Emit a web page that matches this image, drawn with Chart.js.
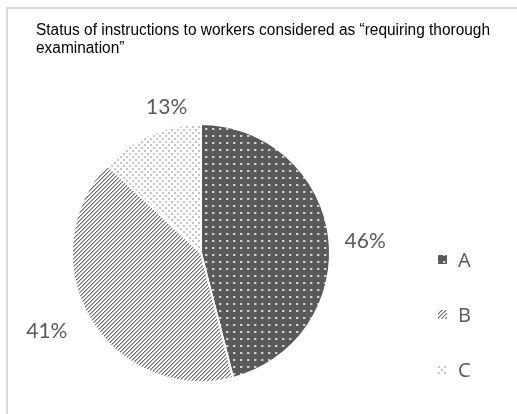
<!DOCTYPE html>
<html>
<head>
<meta charset="utf-8">
<script src="https://cdn.jsdelivr.net/npm/chart.js@4/dist/chart.umd.min.js"></script>
<style>
html,body{margin:0;padding:0;background:#fff;}
#wrap{width:517px;height:414px;position:relative;}
</style>
</head>
<body>
<div id="wrap"><canvas id="c" width="517" height="414"></canvas></div>
<script>
const titleLines = ['Status of instructions to workers considered as \u201crequiring thorough', 'examination\u201d'];
const categories = ['A', 'B', 'C'];
const values = [46, 41, 13];
const valueLabels = ['46%', '41%', '13%'];

function makePattern(kind) {
  const t = document.createElement('canvas');
  const g = t.getContext('2d');
  if (kind === 'A') {
    t.width = 7; t.height = 7;
    g.fillStyle = '#595959'; g.fillRect(0, 0, 7, 7);
    g.fillStyle = '#cfcfcf'; g.fillRect(2, 2, 2, 2);
    g.fillStyle = '#8a8a8a'; g.fillRect(4, 2, 1, 2);
  } else if (kind === 'B') {
    t.width = 4; t.height = 4;
    g.fillStyle = '#ffffff'; g.fillRect(0, 0, 4, 4);
    g.fillStyle = '#6e6e6e';
    for (let i = 0; i < 4; i++) { g.fillRect(i, 3 - i, 1, 1); }
    g.fillStyle = '#b5b5b5';
    for (let i = 0; i < 4; i++) { g.fillRect((i + 1) % 4, 3 - i, 1, 1); }
  } else {
    t.width = 6; t.height = 6;
    g.fillStyle = '#ffffff'; g.fillRect(0, 0, 6, 6);
    g.fillStyle = '#c4c4c4';
    g.fillRect(0, 0, 2, 2);
    g.fillRect(3, 3, 2, 2);
  }
  return g.createPattern(t, 'repeat');
}
const fills = categories.map(makePattern);

const textColor = '#595959';

const decor = {
  id: 'decor',
  beforeDraw(chart) {
    const c = chart.ctx;
    c.save();
    c.fillStyle = '#fff';
    c.fillRect(0, 0, chart.width, chart.height);
    c.strokeStyle = '#d9d9d9';
    c.lineWidth = 2;
    c.strokeRect(7, 8, 520, 420);
    c.restore();
  },
  afterDraw(chart, args, opts) {
    const c = chart.ctx;
    c.save();
    // title (condensed)
    c.fillStyle = '#000';
    c.font = '16px "Liberation Sans Narrow", "Liberation Sans", sans-serif';
    c.textBaseline = 'alphabetic';
    c.textAlign = 'left';
    const w0 = c.measureText(titleLines[0]).width;
    const sx = Math.min(1, 454 / w0);
    titleLines.forEach((l, i) => {
      c.save();
      c.translate(36, 35 + i * 18);
      c.scale(sx, 1);
      c.fillText(l, 0, 0);
      c.restore();
    });
    // data labels placed relative to pie centre in radius units
    const meta = chart.getDatasetMeta(0);
    c.font = '21px Lato, "Noto Sans", sans-serif';
    c.fillStyle = textColor;
    c.textAlign = 'center';
    c.textBaseline = 'middle';
    meta.data.forEach((arc, i) => {
      const o = opts.labelOffsets[i];
      const r = arc.outerRadius;
      c.fillText(valueLabels[i], arc.x + o[0] * r, arc.y + o[1] * r);
    });
    // legend
    categories.forEach((cat, i) => {
      const y = 260 + i * 55;
      c.fillStyle = fills[i];
      c.fillRect(438, y - 5, 9, 9);
      c.fillStyle = textColor;
      c.textAlign = 'left';
      c.font = '20px "Open Sans", Lato, sans-serif';
      c.fillText(cat, 458, y + 1);
    });
    c.restore();
  }
};

new Chart(document.getElementById('c'), {
  type: 'pie',
  data: {
    labels: categories,
    datasets: [{
      data: values,
      backgroundColor: fills,
      borderColor: '#ffffff',
      borderWidth: 2
    }]
  },
  options: {
    responsive: false,
    animation: false,
    layout: { padding: { left: 71, right: 186, top: 123, bottom: 31 } },
    plugins: {
      legend: { display: false }, tooltip: { enabled: false }, title: { display: false },
      decor: { labelOffsets: [[1.273, -0.094], [-1.195, 0.609], [-0.266, -1.133]] }
    }
  },
  plugins: [decor]
});
</script>
</body>
</html>
